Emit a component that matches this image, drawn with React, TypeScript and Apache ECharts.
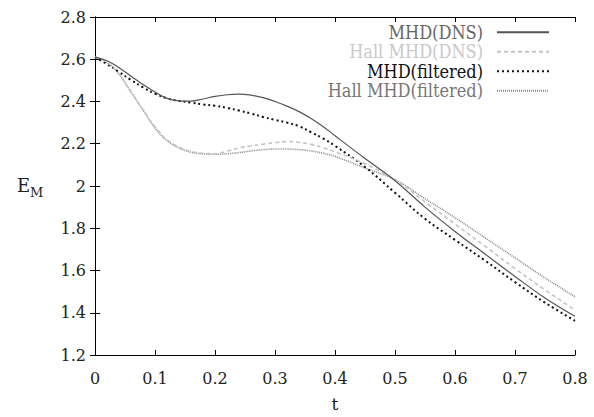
import React, { useEffect, useRef } from "react";
import * as echarts from "echarts";

const tValues = [0, 0.02, 0.04, 0.06, 0.08, 0.1, 0.12, 0.14, 0.16, 0.18, 0.2, 0.22, 0.24, 0.26, 0.28, 0.3, 0.32, 0.34, 0.36, 0.38, 0.4, 0.45, 0.5, 0.55, 0.6, 0.65, 0.7, 0.75, 0.8];

const mhdDns = [2.61, 2.593, 2.56, 2.52, 2.48, 2.445, 2.415, 2.403, 2.402, 2.412, 2.424, 2.432, 2.435, 2.43, 2.418, 2.4, 2.378, 2.352, 2.32, 2.282, 2.238, 2.13, 2.025, 1.9, 1.785, 1.678, 1.572, 1.47, 1.383];
const hallDns = [2.61, 2.585, 2.53, 2.445, 2.36, 2.28, 2.218, 2.185, 2.163, 2.155, 2.153, 2.165, 2.18, 2.19, 2.198, 2.205, 2.21, 2.207, 2.197, 2.182, 2.162, 2.105, 2.03, 1.925, 1.82, 1.715, 1.609, 1.508, 1.413];
const mhdFiltered = [2.61, 2.577, 2.54, 2.502, 2.467, 2.437, 2.415, 2.403, 2.395, 2.386, 2.38, 2.37, 2.357, 2.343, 2.327, 2.313, 2.3, 2.283, 2.255, 2.225, 2.19, 2.09, 1.968, 1.845, 1.745, 1.647, 1.545, 1.448, 1.362];
const hallFiltered = [2.61, 2.585, 2.53, 2.445, 2.36, 2.275, 2.215, 2.18, 2.16, 2.152, 2.15, 2.153, 2.158, 2.166, 2.172, 2.175, 2.175, 2.172, 2.166, 2.155, 2.14, 2.085, 2.03, 1.94, 1.85, 1.755, 1.66, 1.565, 1.476];

const seriesNames = ["MHD(DNS)", "Hall MHD(DNS)", "MHD(filtered)", "Hall MHD(filtered)"];
const xTicks = { min: 0, max: 0.8, interval: 0.1 };
const yTicks = { min: 1.2, max: 2.8, interval: 0.2 };

const FONT = "DejaVu Serif";
const FONT_LEGEND = "DejaVu Serif Condensed, DejaVu Serif";

export default function App() {
  const ref = useRef<HTMLDivElement>(null);
  useEffect(() => {
    if (!ref.current) return;
    const chart = echarts.init(ref.current, undefined, { renderer: "svg" });
    const toData = (arr: number[]) => tValues.map((t, i) => [t, arr[i]]);
    const axisCommon = {
      axisLine: { show: true, lineStyle: { color: "#000", width: 1 } },
      axisTick: { show: true, inside: true, length: 5, lineStyle: { color: "#000" } },
      splitLine: { show: false },
    };
    const lineStyles = [
      { color: "#555", width: 1.2, type: "solid" },
      { color: "#c4c4c4", width: 1.6, type: [4, 3] },
      { color: "#111", width: 2, type: [2, 3] },
      { color: "#8a8a8a", width: 1.6, type: [1, 1] },
    ];
    const textColors = ["#666", "#c8c8c8", "#111", "#777"];
    const dataSets = [mhdDns, hallDns, mhdFiltered, hallFiltered];
    chart.setOption({
      animation: false,
      backgroundColor: "#fff",
      grid: { left: 95, right: 19, top: 17, bottom: 62, containLabel: false },
      legend: {
        orient: "vertical",
        right: 44,
        top: 23,
        padding: 0,
        align: "right",
        itemWidth: 52,
        itemHeight: 10,
        itemGap: 1,
        itemStyle: { opacity: 0 },
        data: seriesNames.map((n, i) => ({ name: n, textStyle: { color: textColors[i] } })),
        textStyle: { fontFamily: FONT_LEGEND, fontSize: 18, lineHeight: 18.5, padding: [0, 9, 0, 0] },
      },
      xAxis: [
        {
          type: "value",
          ...xTicks,
          ...axisCommon,
          axisLabel: { color: "#222", fontFamily: FONT, fontSize: 16, margin: 15 },
          name: "t",
          nameLocation: "middle",
          nameGap: 40,
          nameTextStyle: { color: "#222", fontFamily: FONT, fontSize: 17 },
        },
        {
          type: "value",
          position: "top",
          ...xTicks,
          ...axisCommon,
          axisLabel: { show: false },
        },
      ],
      yAxis: [
        {
          type: "value",
          ...yTicks,
          ...axisCommon,
          axisLabel: { color: "#222", fontFamily: FONT, fontSize: 16, margin: 9 },
        },
        {
          type: "value",
          position: "right",
          ...yTicks,
          ...axisCommon,
          axisLabel: { show: false },
        },
      ],
      graphic: [
        { type: "text", left: 17, top: 176, style: { text: "E", fontFamily: FONT, fontSize: 18, fill: "#222" } },
        { type: "text", left: 30, top: 186, style: { text: "M", fontFamily: FONT, fontSize: 13, fill: "#222" } },
      ],
      series: dataSets.map((arr, i) => ({
        name: seriesNames[i],
        type: "line",
        xAxisIndex: 0,
        yAxisIndex: 0,
        data: toData(arr),
        smooth: 0.4,
        symbol: "none",
        showSymbol: false,
        lineStyle: lineStyles[i],
        itemStyle: { color: lineStyles[i].color },
        z: 4 - i,
      })),
    });
    return () => chart.dispose();
  }, []);
  return (
    <div
      ref={ref}
      style={{ position: "absolute", left: 0, top: 0, width: 594, height: 417, background: "#fff" }}
    />
  );
}
